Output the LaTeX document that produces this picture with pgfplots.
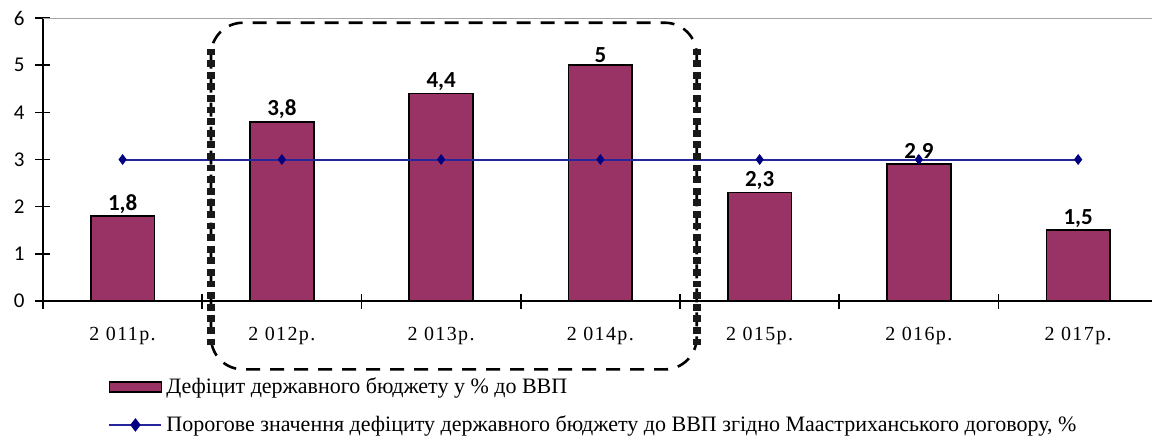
\documentclass[border=0pt]{standalone}
\usepackage{fontspec}
\setmainfont{Liberation Serif}
\newfontfamily\carlito{Carlito}
\newfontfamily\xfont[LetterSpace=7]{Liberation Serif}
\usepackage{pgfplots}
\pgfplotsset{compat=1.18}
\definecolor{plum}{HTML}{993366}
\definecolor{navymark}{HTML}{000080}
\definecolor{navyline}{HTML}{26269C}
\pgfplotsset{
    barleg/.style={legend image code/.code={\draw[fill=plum, draw=black, line width=0.8pt] (0pt,-2.5pt) rectangle (26pt,2.5pt);}},
    lineleg/.style={legend image code/.code={\draw[navyline, line width=1pt] (0pt,0pt) -- (26pt,0pt);
        \fill[navymark] (13pt,0pt) +(0,2.6pt) -- +(2pt,0) -- +(0,-2.6pt) -- +(-2pt,0) -- cycle;}},
}
\begin{document}
\begin{tikzpicture}
\begin{axis}[
    name=ax,
    scale only axis,
    width=555pt, height=141.5pt,
    xmin=-0.5, xmax=6.47,
    ymin=0, ymax=6,
    clip=false,
    axis x line=bottom, axis y line=left,
    axis line style={-, black, line width=0.8pt},
    tick align=center,
    xtick={0,...,6},
    xticklabels={2 011р., 2 012р., 2 013р., 2 014р., 2 015р., 2 016р., 2 017р.},
    xticklabel style={font=\xfont\fontsize{10}{12}\selectfont, yshift=-6pt},
    major x tick style={draw=none},
    minor xtick={-0.5,0.5,1.5,...,5.5},
    minor tick length=7.5pt,
    minor x tick style={draw=black, line width=0.8pt},
    ytick={0,...,6},
    yticklabel style={font=\carlito\fontsize{10.5}{12}\selectfont, xshift=-2pt},
    major tick length=7.5pt,
    major y tick style={draw=black, line width=0.8pt},
    extra y ticks={6},
    extra y tick labels={},
    extra y tick style={grid=major, major grid style={gray!70, line width=0.5pt}, major tick length=0pt},
    /pgf/number format/assume math mode=true,
    /pgf/number format/use comma,
    legend style={at={(axis description cs:0.0586,-0.27)}, anchor=north west,
        draw=none, fill=none, inner sep=0pt, row sep=9.5pt,
        font=\fontsize{11}{12}\selectfont,
        nodes={inner xsep=2pt, inner ysep=0pt}},
    legend cell align=left,
]
\addplot[ybar, bar width=0.4, fill=plum, draw=black, line width=0.8pt,
    nodes near coords,
    every node near coord/.append style={font=\carlito\bfseries\fontsize{11.5}{12}\selectfont, anchor=south, inner sep=1pt, text=black},
    barleg]
coordinates {(0,1.8) (1,3.8) (2,4.4) (3,5) (4,2.3) (5,2.9) (6,1.5)};
\addlegendentry{Дефіцит державного бюджету у \% до ВВП}
\addplot[draw=navyline, line width=1pt, mark=diamond*, mark size=2.4pt,
    mark options={draw=navymark, fill=navymark, line width=0.4pt}, lineleg]
coordinates {(0,3) (1,3) (2,3) (3,3) (4,3) (5,3) (6,3)};
\addlegendentry{Порогове значення дефіциту державного бюджету до ВВП згідно Маастриханського договору, \%}
% rounded dashed frame round 2012-2014
\draw[black, line width=1.3pt, dash pattern=on 7pt off 5pt, rounded corners=16pt]
    (axis cs:0.555,5.9) rectangle (axis cs:3.605,-1.45);
\draw[black!90, line width=3.8pt, dash pattern=on 3.4pt off 2.4pt]
    (axis cs:0.555,5.35) -- (axis cs:0.555,-0.98);
\draw[black!90, line width=3.8pt, dash pattern=on 3.4pt off 2.4pt]
    (axis cs:3.605,5.35) -- (axis cs:3.605,-0.98);
\end{axis}
\pgfresetboundingbox
\path (ax.south west) ++(-21.5pt,-69.5pt) rectangle ++(576pt,220pt);
\end{tikzpicture}
\end{document}
